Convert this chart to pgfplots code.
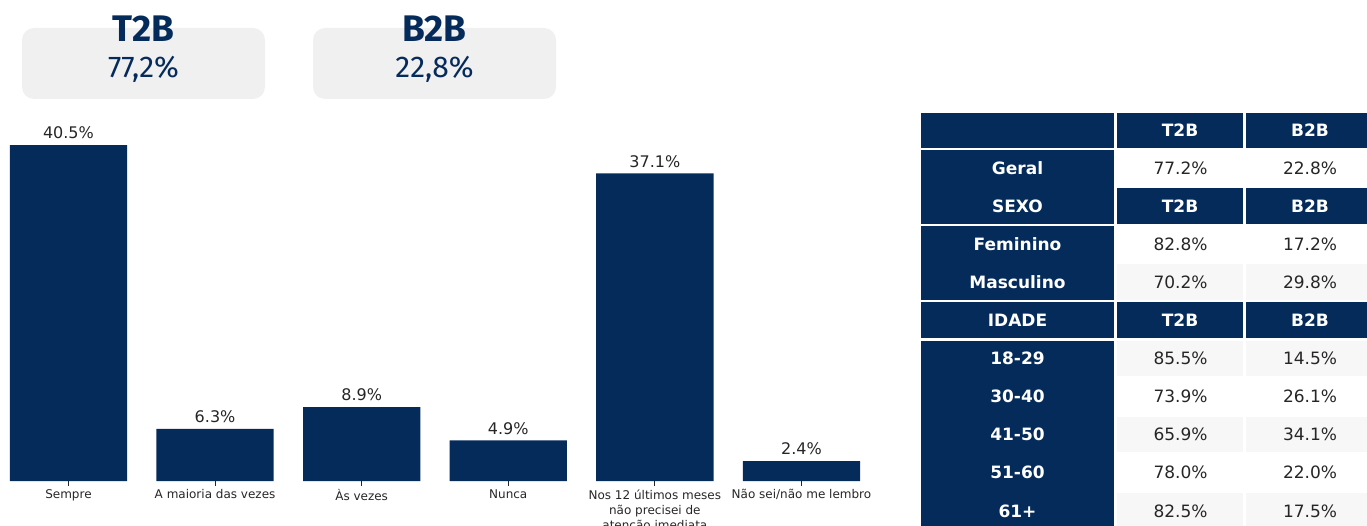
\documentclass[border=0pt]{standalone}
\usepackage{pgfplots}
\pgfplotsset{compat=1.18}
\usepackage{fontspec}
\setmainfont{DejaVu Sans}
\newfontfamily\fira{Fira Sans}
\definecolor{navy}{HTML}{052B5B}
\definecolor{boxgray}{HTML}{F0F0F0}
\definecolor{rowgray}{HTML}{F7F7F7}
\definecolor{txt}{HTML}{262626}

\pgfplotstableread{
x y
0 40.5
1 6.3
2 8.9
3 4.9
4 37.1
5 2.4
}\bars

\begin{document}
\begin{tikzpicture}[x=1pt,y=1pt]
\useasboundingbox (0,0) rectangle (1367,525);
% summary boxes
\fill[boxgray, rounded corners=12pt] (22,426) rectangle (265,497);
\fill[boxgray, rounded corners=12pt] (313,426) rectangle (556,497);
\node[anchor=base, text=navy, font=\fira\bfseries\fontsize{37}{40}\selectfont, inner sep=0] at (143.5,483) {T2B};
\node[anchor=base, text=navy, font=\fira\fontsize{30}{34}\selectfont, inner sep=0] at (143.5,447) {77,2\%};
\node[anchor=base, text=navy, font=\fira\bfseries\fontsize{37}{40}\selectfont, inner sep=0] at (434.5,483) {B2B};
\node[anchor=base, text=navy, font=\fira\fontsize{30}{34}\selectfont, inner sep=0] at (434.5,447) {22,8\%};

\begin{axis}[
  at={(-3.3,53)}, anchor=south west,
  scale only axis, width=879.6pt, height=348.4pt,
  xmin=-0.5, xmax=5.5, ymin=0, ymax=42,
  ybar, bar width=0.8,
  hide y axis,
  axis x line*=bottom,
  x axis line style={draw=none},
  xtick={0,1,2,3,4,5},
  xticklabels={Sempre, A maioria das vezes, Às vezes, Nunca, {Nos 12 últimos meses\\não precisei de\\atenção imediata}, Não sei/não me lembro},
  x tick label style={font=\fontsize{12}{15}\selectfont, text=txt, align=center},
  xtick align=outside,
  major tick length=5pt,
  tick style={color=txt, line width=0.8pt},
  /pgf/number format/assume math mode=true,
  nodes near coords={\pgfmathprintnumber[fixed,fixed zerofill,precision=1,assume math mode=true]{\pgfplotspointmeta}\%},
  nodes near coords style={font=\fontsize{16}{19}\selectfont, text=txt, yshift=2.5pt},
  clip=false,
]
\addplot[fill=navy, draw=none] table[x=x,y=y] {\bars};
\end{axis}

% table
\foreach \ya/\yb in {113/148,150/224,226/300,302/338,341/530}
  \fill[navy] (921,525-\yb) rectangle (1114,525-\ya);
\foreach \ya/\yb in {113/148,188/224,302/338} {
  \fill[navy] (1117,525-\yb) rectangle (1243,525-\ya);
  \fill[navy] (1246,525-\yb) rectangle (1374,525-\ya);
  \node[text=white, font=\bfseries\fontsize{17}{20}\selectfont, text height=12.4pt, text depth=0pt, inner sep=0] at (1180,525-0.5*\ya-0.5*\yb) {T2B};
  \node[text=white, font=\bfseries\fontsize{17}{20}\selectfont, text height=12.4pt, text depth=0pt, inner sep=0] at (1310,525-0.5*\ya-0.5*\yb) {B2B};
}
\node[text=white, font=\bfseries\fontsize{17}{20}\selectfont, text height=12.4pt, text depth=0pt, inner sep=0] at (1017.5,525-206) {SEXO};
\node[text=white, font=\bfseries\fontsize{17}{20}\selectfont, text height=12.4pt, text depth=0pt, inner sep=0] at (1017.5,525-320) {IDADE};
\foreach \ya/\yb/\lab/\t/\b/\c in {150/186/Geral/77.2/22.8/white,
  226/262/Feminino/82.8/17.2/white,
  264/300/Masculino/70.2/29.8/rowgray,
  341/376/18-29/85.5/14.5/rowgray,
  379/414/30-40/73.9/26.1/white,
  417/452/41-50/65.9/34.1/rowgray,
  455/490/51-60/78.0/22.0/white,
  493/530/61+/82.5/17.5/rowgray} {
  \fill[\c] (1117,525-\yb) rectangle (1243,525-\ya);
  \fill[\c] (1246,525-\yb) rectangle (1374,525-\ya);
  \node[text=white, font=\bfseries\fontsize{17}{20}\selectfont, text height=12.4pt, text depth=0pt, inner sep=0] at (1017.5,525-0.5*\ya-0.5*\yb) {\lab};
  \node[text=txt, font=\fontsize{17}{20}\selectfont, text height=12.4pt, text depth=0pt, inner sep=0] at (1180.5,525-0.5*\ya-0.5*\yb) {\t\%};
  \node[text=txt, font=\fontsize{17}{20}\selectfont, text height=12.4pt, text depth=0pt, inner sep=0] at (1310,525-0.5*\ya-0.5*\yb) {\b\%};
}
\end{tikzpicture}
\end{document}
